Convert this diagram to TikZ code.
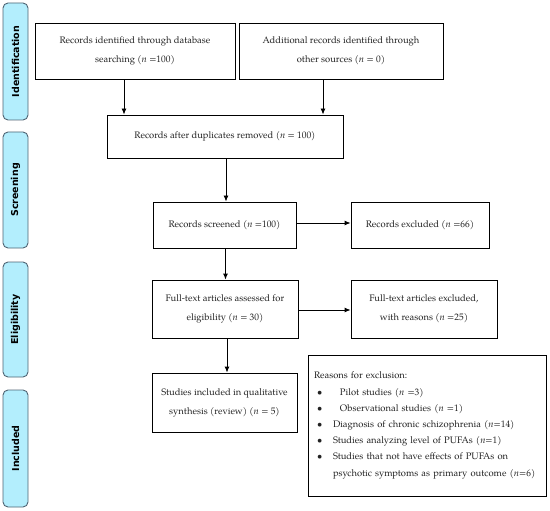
\documentclass[tikz,border=0pt]{standalone}
\usepackage{fontspec}
\newfontfamily\labfont{DejaVu Sans}
\setmainfont{TeX Gyre Pagella}
\usetikzlibrary{arrows.meta}
\definecolor{phasefill}{HTML}{B3EEFD}
\definecolor{phasedraw}{HTML}{4F6473}
\definecolor{txt}{HTML}{222222}
\tikzset{
  phase/.style={draw=phasedraw, fill=phasefill, line width=0.9pt, rounded corners=5pt,
    minimum height=25pt, inner sep=0pt, rotate=90, text=black,
    font=\labfont\bfseries\fontsize{9.5}{12}\selectfont},
  box/.style={draw=black, line width=0.9pt, inner sep=0pt, align=center, text=txt,
    font=\fontsize{9.4}{19}\selectfont},
  arr/.style={line width=0.9pt, -{Latex[length=6pt,width=5pt]}}
}
\begin{document}
\begin{tikzpicture}[x=1pt,y=-1pt]
\useasboundingbox (0,0) rectangle (550,511);
% phases
\node[phase, minimum width=117pt] (p1) at (15.5,61.5) {Identification};
\node[phase, minimum width=116pt] (p2) at (15.5,190) {Screening};
\node[phase, minimum width=115pt] (p3) at (15.5,319.5) {Eligibility};
\node[phase, minimum width=117pt] (p4) at (15.5,448.5) {Included};
% boxes
\node[box, minimum width=200pt, minimum height=56pt] (A) at (135,51) {Records identified through database\\searching (\textit{n} =100)};
\node[box, minimum width=204pt, minimum height=56pt] (B) at (341,51) {Additional records identified through\\other sources (\textit{n} = 0)};
\node[box, minimum width=236pt, minimum height=43pt] (C) at (225,136.5) {Records after duplicates removed (\textit{n} = 100)};
\node[box, minimum width=143pt, minimum height=46pt] (D) at (224.5,225) {Records screened (\textit{n} =100)};
\node[box, minimum width=138pt, minimum height=46pt] (E) at (420,225) {Records excluded (\textit{n} =66)};
\node[box, minimum width=146pt, minimum height=58pt] (F) at (225,309) {Full-text articles assessed for\\eligibility (\textit{n} = 30)};
\node[box, minimum width=146pt, minimum height=58pt] (G) at (424,309) {Full-text articles excluded,\\with reasons (\textit{n} =25)};
\node[box, minimum width=145pt, minimum height=59pt] (H) at (224.5,402.5) {Studies included in qualitative\\synthesis (review) (\textit{n} = 5)};
\node[box, minimum width=238pt, minimum height=141pt, text width=226pt, align=left,
  font=\fontsize{9.4}{16.2}\selectfont] (I) at (427,425.5) {%
Reasons for exclusion:\\
\hspace*{3pt}\makebox[23pt][l]{\textbullet}Pilot studies (\textit{n} =3)\\
\hspace*{3pt}\makebox[23pt][l]{\textbullet}Observational studies (\textit{n} =1)\\
\hspace*{3pt}\makebox[16pt][l]{\textbullet}Diagnosis of chronic schizophrenia (\textit{n}=14)\\
\hspace*{3pt}\makebox[16pt][l]{\textbullet}Studies analyzing level of PUFAs (\textit{n}=1)\\
\hspace*{3pt}\makebox[16pt][l]{\textbullet}Studies that not have effects of PUFAs on\\
\hspace*{19pt}psychotic symptoms as primary outcome (\textit{n}=6)};
% arrows
\draw[arr] ([xshift=-11pt]A.south) -- ([xshift=-11pt]A.south |- C.north);
\draw[arr] ([xshift=-18pt]B.south) -- ([xshift=-18pt]B.south |- C.north);
\draw[arr] ([xshift=1pt]C.south) -- ([xshift=1pt]C.south |- D.north);
\draw[arr] ([yshift=2pt]D.east) -- ([yshift=2pt]D.east -| E.west);
\draw[arr] ([xshift=1pt]D.south) -- ([xshift=1pt]D.south |- F.north);
\draw[arr] ([yshift=-1pt]F.east) -- ([yshift=-1pt]F.east -| G.west);
\draw[arr] ([xshift=2pt]F.south) -- ([xshift=2pt]F.south |- H.north);
\end{tikzpicture}
\end{document}
